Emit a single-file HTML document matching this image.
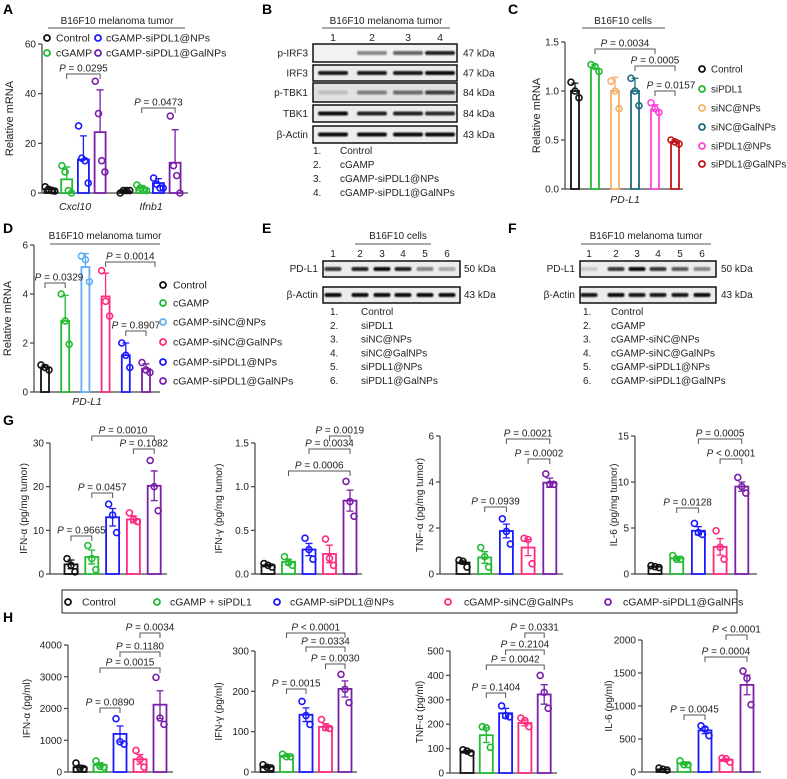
<!DOCTYPE html>
<html><head><meta charset="utf-8">
<style>
html,body{margin:0;padding:0;background:#fff;}
svg{display:block;font-family:"Liberation Sans",Arial,sans-serif;}
</style></head>
<body>
<svg id="fig" width="787" height="779" viewBox="0 0 787 779" xmlns="http://www.w3.org/2000/svg">
<defs><filter id="blur" x="-20%" y="-100%" width="140%" height="300%"><feGaussianBlur stdDeviation="0.7"/></filter></defs>
<g font-weight="bold" font-size="14" fill="#000">
<text x="3" y="14">A</text>
<text x="262" y="14">B</text>
<text x="508" y="14">C</text>
<text x="3" y="233">D</text>
<text x="262" y="233">E</text>
<text x="508" y="233">F</text>
<text x="3" y="425">G</text>
<text x="3" y="622">H</text>
</g>
<g font-size="10" fill="#222" text-anchor="middle">
<text x="117" y="24">B16F10 melanoma tumor</text>
<line x1="48" y1="28" x2="185" y2="28" stroke="#555" stroke-width="1"/>
<text x="386" y="24">B16F10 melanoma tumor</text>
<line x1="322" y1="28" x2="450" y2="28" stroke="#555" stroke-width="1"/>
<text x="623" y="24">B16F10 cells</text>
<line x1="582" y1="28" x2="665" y2="28" stroke="#555" stroke-width="1"/>
<text x="105" y="239">B16F10 melanoma tumor</text>
<line x1="50" y1="244" x2="160" y2="244" stroke="#555" stroke-width="1"/>
<text x="398" y="239">B16F10 cells</text>
<line x1="355" y1="244" x2="431" y2="244" stroke="#555" stroke-width="1"/>
<text x="646" y="239">B16F10 melanoma tumor</text>
<line x1="581" y1="244" x2="711" y2="244" stroke="#555" stroke-width="1"/>
</g>
<g id="legG">
<rect x="62" y="590" width="675" height="23" fill="#fff" stroke="#222" stroke-width="1"/>
</g>
</svg>
<script>
const NS='http://www.w3.org/2000/svg';
const svg=document.getElementById('fig');
function mk(tag,attrs,txt){const e=document.createElementNS(NS,tag);for(const k in attrs)e.setAttribute(k,attrs[k]);if(txt!=null)e.textContent=txt;svg.appendChild(e);return e;}

// ---------- DATA ----------
const aCxclMeans=[1.5,5.5,13.5,24.5];
const aCxclPts=[[2.5,1.5,1,0.8],[11,8.5,1,0],[27,14,13,4],[45,32,13,8.5]];
const aCxclErr=[0.8,5,9.5,17];
const aIfnbMeans=[0.8,2,4,12.2];
const aIfnbPts=[[0,1,1,1],[3.2,2,1.5,1],[6,3.5,2,2],[31,11,7,0]];
const aIfnbErr=[0.5,1,1.8,13.3];
const aTicks=[0,20,40,60];
const aTickLabels=['0','20','40','60'];

const cMeans=[1.0,1.23,1.0,1.0,0.81,0.48];
const cPts=[[1.09,1.0,0.93],[1.27,1.25,1.2],[1.1,1.0,0.82],[1.13,1.0,0.85],[0.88,0.82,0.78],[0.5,0.48,0.46]];
const cErr=[0.08,0.04,0.14,0.13,0.05,0.02];
const cTicks=[0,0.5,1.0,1.5];
const cTickLabels=['0.0','0.5','1.0','1.5'];

const dMeans=[1.0,2.9,5.1,3.9,1.5,0.95];
const dPts=[[1.1,1.0,0.9],[4.0,2.9,1.95],[5.55,5.4,4.5],[4.95,3.7,3.1],[2.0,1.5,1.0],[1.2,0.9,0.8]];
const dErr=[0.1,1.05,0.55,0.95,0.5,0.2];
const dTicks=[0,2,4,6];
const dTickLabels=['0','2','4','6'];

const gIfnaMeans=[2.2,3.9,13,12.5,20.2];
const gIfnaPts=[[3.5,2,0.5],[6.5,3.5,1],[16,13.5,9.5],[14,12.5,12],[26,20,14.5]];
const gIfnaErr=[1,1.6,2,0.8,3.4];
const gIfnaTicks=[0,10,20,30];
const gIfnaTickLabels=['0','10','20','30'];
const gIfngMeans=[0.1,0.14,0.28,0.23,0.84];
const gIfngPts=[[0.12,0.1,0.08],[0.2,0.13,0.1],[0.41,0.28,0.17],[0.4,0.18,0.1],[1.06,0.83,0.66]];
const gIfngErr=[0.01,0.03,0.07,0.1,0.12];
const gIfngTicks=[0,0.5,1.0,1.5];
const gIfngTickLabels=['0.0','0.5','1.0','1.5'];
const gTnfMeans=[0.5,0.72,1.87,1.15,3.97];
const gTnfPts=[[0.6,0.55,0.3],[1.15,0.75,0.3],[2.4,1.85,1.3],[1.55,1.5,0.45],[4.35,3.9,3.9]];
const gTnfErr=[0.07,0.25,0.3,0.35,0.2];
const gTnfTicks=[0,2,4,6];
const gTnfTickLabels=['0','2','4','6'];
const gIl6Means=[0.8,1.7,4.7,2.95,9.5];
const gIl6Pts=[[0.9,0.8,0.7],[2.0,1.6,1.6],[5.5,4.5,4.3],[4.7,2.9,1.6],[10.5,9.5,8.8]];
const gIl6Err=[0.05,0.2,0.45,0.9,0.5];
const gIl6Ticks=[0,5,10,15];
const gIl6TickLabels=['0','5','10','15'];

const hIfnaMeans=[150,220,1200,400,2120];
const hIfnaPts=[[280,120,100],[350,180,150],[1680,950,880],[680,400,150],[2980,1700,1500]];
const hIfnaErr=[60,70,250,150,440];
const hIfnaTicks=[0,1000,2000,3000,4000];
const hIfnaTickLabels=['0','1000','2000','3000','4000'];
const hIfngMeans=[13,40,142,112,206];
const hIfngPts=[[18,12,10],[44,38,38],[175,140,118],[130,110,108],[242,205,172]];
const hIfngErr=[3,2,17,8,20];
const hIfngTicks=[0,100,200,300];
const hIfngTickLabels=['0','100','200','300'];
const hTnfMeans=[88,155,245,205,322];
const hTnfPts=[[95,90,82],[190,185,105],[275,235,230],[225,215,190],[400,330,265]];
const hTnfErr=[5,30,20,12,40];
const hTnfTicks=[0,100,200,300,400,500];
const hTnfTickLabels=['0','100','200','300','400','500'];
const hIl6Means=[40,130,630,185,1320];
const hIl6Pts=[[60,40,30],[170,110,110],[700,650,550],[210,200,150],[1530,1420,1020]];
const hIl6Err=[10,20,50,15,150];
const hIl6Ticks=[0,500,1000,1500,2000];
const hIl6TickLabels=['0','500','1000','1500','2000'];

const bBlotRows=['p-IRF3','IRF3','p-TBK1','TBK1','β-Actin'];
const bBlotKda=['47 kDa','47 kDa','84 kDa','84 kDa','43 kDa'];
const bIntensity=[[0,0.45,0.6,0.9],[0.95,0.95,0.95,1],[0.15,0.45,0.55,0.75],[1,0.9,0.9,0.85],[1,1,1,1]];
const eIntensity=[[0.8,0.9,1,0.9,0.45,0.3],[1,1,1,1,1,1]];
const fIntensity=[[0.15,0.8,1,0.8,0.65,0.45],[0.95,1,0.95,0.95,0.95,1]];

const COL5=['#111','#22bb33','#1a1aff','#ff2a80','#7a1fa8'];
const COLA=['#111','#22bb33','#1a1aff','#7a1fa8'];
const COLC=['#111','#22bb33','#f7b06a','#1d6b80','#ff44dd','#c01515'];
const COLD=['#111','#22bb33','#62aef5','#ff2a80','#1a1aff','#7a1fa8'];

// ---------- DRAW HELPERS ----------
function scale(c){return v=>c.yB-(v/c.max)*(c.yB-c.yT);}
function axes(c,ticks,labels){
  const y=scale(c);
  let e;
  e=mk('line',{x1:c.ax,y1:y(c.max),x2:c.ax,y2:c.yB,stroke:'#444','stroke-width':1.2});
  
  
  e=mk('line',{x1:c.ax,y1:c.yB,x2:c.xEnd,y2:c.yB,stroke:'#444','stroke-width':1.2});
  
  
  ticks.forEach((t,k)=>{
    let l=mk('line',{x1:c.ax-4,y1:y(t),x2:c.ax,y2:y(t),stroke:'#444','stroke-width':1.2});
    
    
    let tx=mk('text',{x:c.ax-6,y:y(t)+3.5,'font-size':10,'text-anchor':'end',fill:'#222'},labels[k]);
    
    
  });
  const my=(y(c.max)+c.yB)/2;
  e=mk('text',{x:c.tx,y:my,'font-size':c.tfs||10,'text-anchor':'middle',fill:'#222',transform:`rotate(-90 ${c.tx} ${my})`},c.title);
  
  
}
function series(c,xs,means,pts,err,cols,sd){
  const y=scale(c);
  means.forEach((m,i)=>{
    const x=xs(i);
    let r=mk('rect',{x:x-c.bw/2,y:y(m),width:c.bw,height:c.yB-y(m),fill:'#fff',stroke:cols[i],'stroke-width':1.8});
    
    
    const lo=sd?m:m-err[i], hi=m+err[i];
    let eb=mk('path',{d:`M${x} ${y(lo)}V${y(hi)}M${x-3.5} ${y(hi)}H${x+3.5}`+(sd?'':`M${x-3.5} ${y(lo)}H${x+3.5}`),stroke:cols[i],'stroke-width':1.3,fill:'none'});
    
    
    const n=pts[i].length;
    pts[i].forEach((v,k)=>{
      const off=(k-(n-1)/2)*(n>3?3.2:4);
      let p=mk('circle',{cx:x+off,cy:y(v),r:3,fill:'none',stroke:cols[i],'stroke-width':1.6});
      
      
    });
  });
}
function bracket(id,x1,x2,yb,label,tx){
  let p=mk('path',{d:`M${x1} ${yb+5}V${yb}H${x2}V${yb+5}`,stroke:'#555','stroke-width':1,fill:'none'});
  
  
  const parts=label.split(' ');
  let t=mk('text',{x:tx!=null?tx:(x1+x2)/2,y:yb-2.5,'font-size':10,'text-anchor':'middle',fill:'#222'});
  
  
  const it=document.createElementNS(NS,'tspan');it.setAttribute('font-style','italic');it.textContent='P';t.appendChild(it);
  t.appendChild(document.createTextNode(' '+parts.slice(1).join(' ')));
}
function txt(name,x,y,s,opt){const o=Object.assign({x:x,y:y,'font-size':10,fill:'#222'},opt||{});let t=mk('text',o,s);return t;}
function legendDot(name,x,y,col,label,tx,fs){
  let c=mk('circle',{cx:x,cy:y,r:3,fill:'none',stroke:col,'stroke-width':1.8});
  
  
  txt(name,tx,y+3.6,label,{'font-size':fs||10.5});
}
function blot(id,x0,x1,rows,centers,bw,inten,gray){
  rows.forEach((r,ri)=>{
    let b=mk('rect',{x:x0,y:r[0],width:x1-x0,height:r[1]-r[0],fill:gray&&gray[ri]?gray[ri]:'#ececec',stroke:'#111','stroke-width':1.5});
    
    
    const cy=(r[0]+r[1])/2;
    inten[ri].forEach((v,k)=>{
      if(v<=0.02)return;
      let band=mk('rect',{x:centers[k]-bw/2,y:cy-2,width:bw,height:4,rx:2,fill:'#111',opacity:v,filter:'url(#blur)'});
      
      
    });
  });
}

// ---------- PANEL A ----------
const cA={id:'a',ax:42,yT:44,yB:193,max:60,xEnd:188,bw:11,tx:13,title:'Relative mRNA',tfs:11};
axes(cA,aTicks,aTickLabels);
const aStep=16.7;
series(cA,i=>50+i*aStep,aCxclMeans,aCxclPts,aCxclErr,COLA,true);
series(cA,i=>125+i*aStep,aIfnbMeans,aIfnbPts,aIfnbErr,COLA,true);
txt('a-x-label-cxcl10',75,210,'Cxcl10',{'text-anchor':'middle','font-style':'italic','font-size':10.5});
txt('a-x-label-ifnb1',151,210,'Ifnb1',{'text-anchor':'middle','font-style':'italic','font-size':10.5});
bracket('a',50+aStep,50+3*aStep,74,'P = 0.0295');
bracket('a',125+aStep,125+3*aStep,108,'P = 0.0473');
legendDot('a-legend-control',47,38,COLA[0],'Control',56);
legendDot('a-legend-cgamp',47,53,COLA[1],'cGAMP',56);
legendDot('a-legend-np',98,38,COLA[2],'cGAMP-siPDL1@NPs',106);
legendDot('a-legend-galnp',98,53,COLA[3],'cGAMP-siPDL1@GalNPs',106);

// ---------- PANEL B ----------
const bCenters=[333,372,408,440];
const bRowsY=[[44,62],[65,81],[83,102],[105,122],[126,143]];
blot('b',313,457,bRowsY,bCenters,30,bIntensity,['#f2f2f2','#ececec','#e0e0e0','#ececec','#eeeeee']);
bCenters.forEach((x,k)=>txt('b-lane-number',x,41,String(k+1),{'text-anchor':'middle','font-size':10.5}));
bBlotRows.forEach((s,k)=>{const cy=(bRowsY[k][0]+bRowsY[k][1])/2;txt('b-row-label',308,cy+3.5,s,{'text-anchor':'end'});txt('b-kda-label',463,cy+3.5,bBlotKda[k]);});
['Control','cGAMP','cGAMP-siPDL1@NPs','cGAMP-siPDL1@GalNPs'].forEach((s,k)=>{txt('b-legend-number',313,154+k*14,(k+1)+'.');txt('b-legend-name',340,154+k*14,s);});

// ---------- PANEL C ----------
const cC={id:'c',ax:565,yT:42,yB:189,max:1.5,xEnd:683,bw:8,tx:540,title:'Relative mRNA',tfs:11};
axes(cC,cTicks,cTickLabels);
const cx=i=>575+i*20;
series(cC,cx,cMeans,cPts,cErr,COLC,true);
txt('c-x-label',625,203,'PD-L1',{'text-anchor':'middle','font-style':'italic','font-size':10.5});
bracket('c',cx(1),cx(4),49,'P = 0.0034');
bracket('c',cx(3),cx(5),66,'P = 0.0005');
bracket('c',cx(4),cx(5),91,'P = 0.0157',671);
['Control','siPDL1','siNC@NPs','siNC@GalNPs','siPDL1@NPs','siPDL1@GalNPs'].forEach((s,k)=>legendDot('c-legend-entry',702,[69,89,108,127,146,164][k],COLC[k],s,711,9.8));

// ---------- PANEL D ----------
const cD={id:'d',ax:34,yT:245,yB:392,max:6,xEnd:160,bw:8,tx:11,title:'Relative mRNA',tfs:11};
axes(cD,dTicks,dTickLabels);
const dx=i=>45+i*20.2;
series(cD,dx,dMeans,dPts,dErr,COLD,true);
txt('d-x-label',87,405,'PD-L1',{'text-anchor':'middle','font-style':'italic','font-size':10.5});
bracket('d',dx(0),dx(1),283,'P = 0.0329',59);
bracket('d',dx(3),dx(5)+9,262,'P = 0.0014');
bracket('d',dx(4),dx(5),331,'P = 0.8907');
['Control','cGAMP','cGAMP-siNC@NPs','cGAMP-siNC@GalNPs','cGAMP-siPDL1@NPs','cGAMP-siPDL1@GalNPs'].forEach((s,k)=>legendDot('d-legend-entry',163,[285,303,322,342,362,381][k],COLD[k],s,173));

// ---------- PANEL E ----------
const eCenters=[333,360,382,403,425,447];
const eRows=[[261,277],[287,303]];
blot('e',323,460,eRows,eCenters,17,eIntensity);
eCenters.forEach((x,k)=>txt('e-lane-number',x,257,String(k+1),{'text-anchor':'middle'}));
txt('e-row-label',318,272,'PD-L1',{'text-anchor':'end'});
txt('e-row-label',318,298,'β-Actin',{'text-anchor':'end'});
txt('e-kda-label',464,272,'50 kDa');
txt('e-kda-label',464,298,'43 kDa');
['Control','siPDL1','siNC@NPs','siNC@GalNPs','siPDL1@NPs','siPDL1@GalNPs'].forEach((s,k)=>{txt('e-legend-number',330,315+k*13.8,(k+1)+'.');txt('e-legend-name',361,315+k*13.8,s);});

// ---------- PANEL F ----------
const fCenters=[589,616,637,658,680,702];
blot('f',580,716,eRows,fCenters,17,fIntensity);
fCenters.forEach((x,k)=>txt('f-lane-number',x,257,String(k+1),{'text-anchor':'middle'}));
txt('f-row-label',575,272,'PD-L1',{'text-anchor':'end'});
txt('f-row-label',575,298,'β-Actin',{'text-anchor':'end'});
txt('f-kda-label',721,272,'50 kDa');
txt('f-kda-label',721,298,'43 kDa');
['Control','cGAMP','cGAMP-siNC@NPs','cGAMP-siNC@GalNPs','cGAMP-siPDL1@NPs','cGAMP-siPDL1@GalNPs'].forEach((s,k)=>{txt('f-legend-number',583,315+k*13.8,(k+1)+'.');txt('f-legend-name',611,315+k*13.8,s);});

// ---------- PANEL G ----------
function panel5(c,ticks,labels,means,pts,err,x0,step,brs){
  axes(c,ticks,labels);
  const xs=i=>x0+i*step;
  series(c,xs,means,pts,err,COL5,false);
  brs.forEach(b=>bracket(c.id,xs(b[0]),xs(b[1]),b[2],b[3]));
}
panel5({id:'g-ifna',ax:50,yT:443,yB:574,max:30,xEnd:167,bw:13,tx:27,title:'IFN-α (pg/mg tumor)'},gIfnaTicks,gIfnaTickLabels,gIfnaMeans,gIfnaPts,gIfnaErr,71,20.8,
  [[1,4,436,'P = 0.0010'],[3,4,449,'P = 0.1082'],[1,2,493,'P = 0.0457'],[0,1,536,'P = 0.9665']]);
panel5({id:'g-ifng',ax:255,yT:443,yB:574,max:1.5,xEnd:362,bw:13,tx:222,title:'IFN-γ (pg/mg tumor)'},gIfngTicks,gIfngTickLabels,gIfngMeans,gIfngPts,gIfngErr,268,20.5,
  [[3,4,436,'P = 0.0019'],[2,4,449,'P = 0.0034'],[1,4,471,'P = 0.0006']]);
panel5({id:'g-tnf',ax:440,yT:436,yB:574,max:6,xEnd:563,bw:13,tx:423,title:'TNF-α (pg/mg tumor)'},gTnfTicks,gTnfTickLabels,gTnfMeans,gTnfPts,gTnfErr,463,21.7,
  [[2,4,439,'P = 0.0021'],[3,4,459,'P = 0.0002'],[1,2,507,'P = 0.0939']]);
panel5({id:'g-il6',ax:635,yT:436,yB:574,max:15,xEnd:757,bw:13,tx:617,title:'IL-6 (pg/mg tumor)'},gIl6Ticks,gIl6TickLabels,gIl6Means,gIl6Pts,gIl6Err,655,21.7,
  [[2,4,439,'P = 0.0005'],[3,4,459,'P < 0.0001'],[1,2,508,'P = 0.0128']]);

// legend G
[['Control',68,82],['cGAMP + siPDL1',157,170],['cGAMP-siPDL1@NPs',277,290],['cGAMP-siNC@GalNPs',448,464],['cGAMP-siPDL1@GalNPs',608,623]].forEach((l,k)=>legendDot('g-legend-entry',l[1],602,COL5[k],l[0],l[2]));

// ---------- PANEL H ----------
panel5({id:'h-ifna',ax:68,yT:645,yB:772,max:4000,xEnd:173,bw:13,tx:30,title:'IFN-α (pg/ml)'},hIfnaTicks,hIfnaTickLabels,hIfnaMeans,hIfnaPts,hIfnaErr,80,20,
  [[3,4,633,'P = 0.0034'],[2,4,652,'P = 0.1180'],[1,4,668,'P = 0.0015'],[1,2,708,'P = 0.0890']]);
panel5({id:'h-ifng',ax:255,yT:651,yB:772,max:300,xEnd:357,bw:13,tx:222,title:'IFN-γ (pg/ml)'},hIfngTicks,hIfngTickLabels,hIfngMeans,hIfngPts,hIfngErr,267,19.5,
  [[1,4,633,'P < 0.0001'],[2,4,647,'P = 0.0334'],[3,4,664,'P = 0.0030'],[1,2,689,'P = 0.0015']]);
panel5({id:'h-tnf',ax:450,yT:651,yB:773,max:500,xEnd:557,bw:13,tx:423,title:'TNF-α (pg/ml)'},hTnfTicks,hTnfTickLabels,hTnfMeans,hTnfPts,hTnfErr,467,19.3,
  [[3,4,633,'P = 0.0331'],[2,4,650,'P = 0.2104'],[1,4,665,'P = 0.0042'],[1,2,693,'P = 0.1404']]);
panel5({id:'h-il6',ax:642,yT:640,yB:772,max:2000,xEnd:761,bw:13,tx:612,title:'IL-6 (pg/ml)'},hIl6Ticks,hIl6TickLabels,hIl6Means,hIl6Pts,hIl6Err,663,21,
  [[3,4,635,'P < 0.0001'],[2,4,657,'P = 0.0004'],[1,2,715,'P = 0.0045']]);
</script>
</body></html>
